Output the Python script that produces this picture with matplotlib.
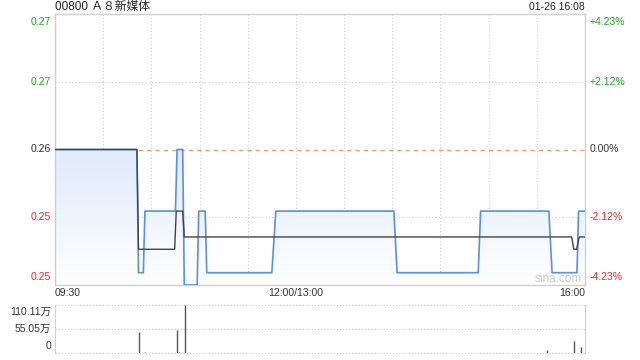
import matplotlib
matplotlib.use("Agg")
import matplotlib.pyplot as plt
import numpy as np
from matplotlib.patches import Polygon

plt.rcParams['font.family'] = ['Liberation Sans', 'Noto Sans CJK SC', 'DejaVu Sans']

# ---------------- data ----------------
title = "00800 Ａ８新媒体"
stamp = "01-26 16:08"
prev_close = 0.26
y_ticks = [0.271, 0.2655, 0.26, 0.2545, 0.249]
y_tick_labels = ["0.27", "0.27", "0.26", "0.25", "0.25"]
pct_labels = ["+4.23%", "+2.12%", "0.00%", "-2.12%", "-4.23%"]
x_labels = ["09:30", "12:00/13:00", "16:00"]
x_label_pos = [0, 150, 330]          # trading minutes

# price (trading minutes from 09:30, HK session = 330 min)
price_t = [0, 51, 52, 55, 56, 75, 76, 79.5, 80.5, 88.5, 89.5, 93.5, 94.5,
           135, 137.5, 211, 213, 263.5, 265, 307.5, 309.5, 325, 326, 330]
price_v = [0.26, 0.26, 0.25, 0.25, 0.255, 0.255, 0.26, 0.26, 0.249, 0.249,
           0.255, 0.255, 0.25, 0.25, 0.255, 0.255, 0.25, 0.25, 0.255, 0.255,
           0.25, 0.25, 0.255, 0.255]
# average price
avg_t = [0, 51, 52, 74.5, 75.5, 79.5, 80.5, 321.7, 323, 324.8, 326.4, 330]
avg_v = [0.26, 0.26, 0.2519, 0.2519, 0.255, 0.255, 0.2529, 0.2529, 0.2519,
         0.2519, 0.2529, 0.2529]
# volume (万)
vol_t = [52.5, 56, 76, 77, 81, 306.5, 323.3, 327.7]
vol_v = [49.2, 3.6, 53.8, 3.6, 110.11, 7.5, 28.7, 15.0]
vol_ticks = [110.11, 55.05, 0]
vol_tick_labels = ["110.11万", "55.05万", "0"]

# ---------------- figure ----------------
W, H = 640, 360
fig = plt.figure(figsize=(W / 100, H / 100), dpi=100)

def fx(px):
    return px / W

def fy(py):
    return 1 - py / H

L, R = 55, 585
ax = fig.add_axes([fx(L), fy(285), fx(R - L), (285 - 14) / H])
axv = fig.add_axes([fx(L), fy(353.3), fx(R - L), (353.3 - 305) / H])

green = '#22a822'
red = '#ee2a2a'
dark = '#333333'
grid_c = '#cfcfcf'
spine_c = '#d0d0d0'

ymin, ymax = 0.249, 0.271
ax.set_xlim(0, 330)
ax.set_ylim(ymin, ymax)
ax.set_xticks([])
ax.set_yticks([])
for s in ax.spines.values():
    s.set_color(spine_c)
    s.set_linewidth(1)

# grid
for m in range(30, 330, 30):
    ax.axvline(m, color=grid_c, lw=0.8, ls=(0, (1, 2)), zorder=1)
for yv in [0.2655, 0.2545]:
    ax.axhline(yv, color=grid_c, lw=0.8, ls=(0, (1, 2)), zorder=1)
ax.axhline(prev_close, color='#f0a060', lw=1, ls=(0, (3, 3)), zorder=1)

# gradient fill under price
verts = [(price_t[0], ymin)] + list(zip(price_t, price_v)) + [(price_t[-1], ymin)]
poly = Polygon(verts, closed=True, facecolor='none', edgecolor='none',
               transform=ax.transData)
ax.add_patch(poly)
grad = np.linspace(0, 1, 256).reshape(-1, 1)
top_c = np.array([0.88, 0.92, 0.985])
bot_c = np.array([1.0, 1.0, 1.0])
img = top_c * (1 - grad[..., None]) + bot_c * grad[..., None]
img = img.reshape(256, 1, 3)
im = ax.imshow(img, extent=[0, 330, ymin, prev_close], origin='upper',
               aspect='auto', zorder=2, interpolation='bilinear')
im.set_clip_path(poly)
ax.set_xlim(0, 330)
ax.set_ylim(ymin, ymax)

ax.plot(price_t, price_v, color='#5a8fe6', lw=1.2, zorder=4)
ax.plot(avg_t, avg_v, color='#444444', lw=1.0, zorder=5)

# y labels
lab_cols = [green, green, dark, red, red]
vas = ['top', 'center', 'center', 'center', 'bottom']
offs = [-3, 0, 0, 0, 3]
for yv, t, p, c, va, o in zip(y_ticks, y_tick_labels, pct_labels, lab_cols, vas, offs):
    ax.annotate(t, (0, yv), xycoords=('axes fraction', 'data'),
                xytext=(-4, o), textcoords='offset pixels',
                ha='right', va=va, color=c, fontsize=7.5)
    ax.annotate(p, (1, yv), xycoords=('axes fraction', 'data'),
                xytext=(5, o), textcoords='offset pixels',
                ha='left', va=va, color=c, fontsize=7.5)

# x labels
has = ['left', 'center', 'right']
for xl, xp, ha in zip(x_labels, x_label_pos, has):
    ax.annotate(xl, (xp, 0), xycoords=('data', 'axes fraction'),
                xytext=(0, -3), textcoords='offset pixels',
                ha=ha, va='top', color=dark, fontsize=7.5)

# title & stamp
fig.text(fx(55), fy(7), title, ha='left', va='center', fontsize=8.5, color='#222222')
fig.text(fx(585), fy(7), stamp, ha='right', va='center', fontsize=7.5, color='#222222')

# watermark
ax.text(0.995, 0.0, "sina.com", transform=ax.transAxes, ha='right', va='bottom',
        fontsize=8.5, color='#cccccc', zorder=3)

# volume panel
axv.set_xlim(0, 330)
axv.set_ylim(0, 110.11)
axv.set_xticks([])
axv.set_yticks([])
for k in ['top', 'bottom']:
    axv.spines[k].set_visible(False)
for k in ['left', 'right']:
    axv.spines[k].set_color(spine_c)
for yv in vol_ticks:
    axv.axhline(yv, color=grid_c, lw=0.9, ls=(0, (1, 1.5)), clip_on=False, zorder=1)
axv.vlines(vol_t, 0, vol_v, color='#555555', lw=1.0, zorder=3)
vvas = ['top', 'center', 'bottom']
voffs = [-2, 0, 2]
for yv, t, va, o in zip(vol_ticks, vol_tick_labels, vvas, voffs):
    axv.annotate(t, (0, yv), xycoords=('axes fraction', 'data'),
                 xytext=(-4, o), textcoords='offset pixels',
                 ha='right', va=va, color=dark, fontsize=7.5)

fig.savefig("out.png", dpi=100)
